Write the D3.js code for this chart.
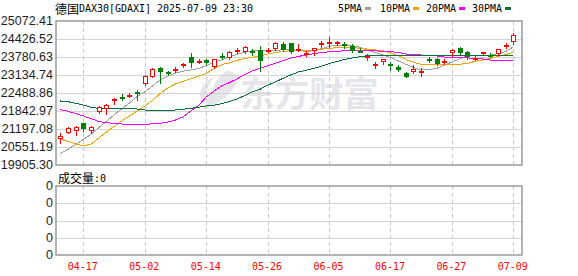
<!DOCTYPE html>
<html>
<head>
<meta charset="utf-8">
<script src="https://cdn.jsdelivr.net/npm/d3@7"></script>
<style>
  html, body { margin: 0; padding: 0; background: #fff; overflow: hidden; }
  svg { display: block; }
</style>
</head>
<body>
<svg id="chart" width="578" height="276"></svg>
<script>
// ---- data (DAX30 daily, 2025-04-14 .. 2025-07-09) ----
const dates = ["04-14","04-15","04-16","04-17","04-22","04-23","04-24","04-25","04-28","04-29",
  "04-30","05-02","05-05","05-06","05-07","05-08","05-09","05-12","05-13","05-14",
  "05-15","05-16","05-19","05-20","05-21","05-22","05-23","05-26","05-27","05-28",
  "05-29","05-30","06-02","06-03","06-04","06-05","06-06","06-09","06-10","06-11",
  "06-12","06-13","06-16","06-17","06-18","06-19","06-20","06-23","06-24","06-25",
  "06-26","06-27","06-30","07-01","07-02","07-03","07-04","07-07","07-08","07-09"];

const openP = [20827,21064,21125,21401,21125,21818,21904,22227,22356,22381,
  22535,22812,23074,23375,23253,23314,23483,23770,23619,23673,
  23432,23827,23734,23996,23971,23996,24032,23996,24067,24247,
  24272,24049,23877,24006,24236,24293,24272,24236,24175,24006,
  23780,23504,23612,23518,23432,23195,23231,23260,23709,23709,
  23612,23913,24092,23949,23727,23888,23841,23877,24150,24308];
const highP = [21043,21258,21305,21423,21305,22033,22094,22320,22442,22478,
  22596,23135,23375,23411,23289,23411,23576,23935,23698,23698,
  23719,23913,23996,24092,24175,24057,24186,24092,24329,24329,
  24293,24236,23996,24114,24354,24487,24365,24318,24236,24092,
  23877,23590,23709,23612,23493,23253,23493,23375,23791,23734,
  23698,24057,24150,23996,23816,23971,23913,24078,24272,24631];
const lowP = [20705,21043,20982,21125,21043,21760,21735,22083,22237,22334,
  22237,22776,23052,22858,23135,23253,23432,23432,23554,23518,
  23375,23698,23709,23913,23913,23852,23289,23949,24032,24006,
  23935,24006,23816,23852,24150,24150,24211,24114,23971,23949,
  23673,23375,23529,23314,23289,23074,23195,23109,23612,23493,
  23529,23816,23877,23698,23673,23852,23770,23852,24092,24247];
const closeP = [20957,21222,21279,21186,21258,21976,22058,22263,22273,22417,
  22514,23099,23339,23231,23160,23350,23518,23576,23655,23554,
  23698,23798,23971,24032,24150,23960,23648,24032,24272,24032,
  23971,24085,23913,24092,24272,24329,24308,24186,24006,23971,
  23816,23540,23698,23483,23314,23074,23339,23296,23662,23518,
  23648,24032,23935,23770,23755,23949,23816,24057,24211,24570];

const ma5 = [20325,20469,20641,20820,21010,21240,21473,21703,21922,22126,
  22363,22532,22740,22955,23095,23199,23271,23321,23364,23472,
  23580,23677,23781,23874,23953,24000,24007,24007,24021,24039,
  24053,24014,23985,24003,24075,24165,24200,24211,24193,24129,
  24028,23942,23856,23763,23641,23522,23407,23314,23325,23372,
  23486,23601,23716,23817,23831,23834,23849,23899,23978,24139];
const ma10 = [20838,20752,20659,20594,20652,20874,21089,21287,21484,21664,
  21843,22022,22220,22471,22668,22812,22909,23002,23092,23189,
  23368,23508,23569,23659,23723,23770,23817,23888,23942,23982,
  24007,24007,24000,24017,24061,24089,24118,24129,24122,24093,
  24064,24035,24007,23924,23831,23691,23590,23522,23494,23494,
  23512,23519,23519,23547,23626,23673,23730,23802,23870,23942];
const ma20 = [21890,21832,21750,21667,21567,21466,21427,21398,21376,21369,
  21366,21366,21380,21402,21448,21520,21635,21843,22040,22345,
  22553,22740,22858,22995,23146,23282,23375,23465,23558,23648,
  23741,23802,23852,23899,23942,23967,23989,24000,24007,24014,
  24028,24007,23978,23978,23942,23888,23888,23852,23817,23817,
  23781,23756,23756,23756,23709,23709,23673,23673,23673,23673];
const ma30 = [22202,22177,22119,22058,21976,21940,21926,21926,21915,21915,
  21915,21879,21854,21854,21854,21879,21904,21940,21976,22022,
  22048,22105,22173,22274,22392,22525,22622,22765,22884,23016,
  23135,23242,23303,23375,23447,23547,23619,23691,23745,23791,
  23827,23842,23849,23852,23852,23852,23852,23852,23852,23852,
  23852,23852,23852,23852,23852,23852,23852,23852,23852,23852];

const priceTicks = [25072.41, 24426.52, 23780.63, 23134.74, 22488.86, 21842.97, 21197.08, 20551.19, 19905.30];
const dateTicks = ["04-17","05-02","05-14","05-26","06-05","06-17","06-27","07-09"];
const volTicks = [0, 0, 0, 0, 0];
const maNames = ["5PMA", "10PMA", "20PMA", "30PMA"];
const maSeries = [ma5, ma10, ma20, ma30];

const titleCn = "德国";
const titleEn = "DAX30[GDAXI] 2025-07-09 23:30";
const volTitleCn = "成交量";
const volValue = ":0";

// ---- styles ----
const MA_COLORS = ["#a0a0a0", "#f5a300", "#ff00ff", "#07713a"];
const UP = "#ff0000", DOWN = "#008000";
const GRID = "#d4d4d4", BORDER = "#9a9a9a";
const MONO = "'DejaVu Sans Mono', monospace";
const CJK = "'Noto Sans CJK SC', sans-serif";
const AXIS = "'Liberation Sans', Arial, sans-serif";

const svg = d3.select("#chart");
const L = 56, R = 522, T = 21, B = 165;     // price panel
const VT = 186, VB = 255;                   // volume panel

const x = d3.scalePoint().domain(dates).range([60.3, 513.3]);
const y = d3.scaleLinear().domain([d3.min(priceTicks), d3.max(priceTicks)]).range([B, T]);
const yv = d3.scalePoint().domain(d3.range(volTicks.length)).range([VB, VT]);
const px = v => Math.round(v) + 0.5;

// watermark (logo swoosh + name)
const wm = svg.append("g").attr("fill", "#e6e6ea");
wm.append("path")
  .attr("d", "M229 71 C238 73 239 83 231 92 C224 100 214 105 204 110 C207 101 210 93 214 86 C218 78 223 71 229 71 Z");
wm.append("path")
  .attr("d", "M200 96 C200 86 206 80 214 77 C209 84 205 92 204 104 Z");
wm.append("text")
  .attr("x", 240).attr("y", 107)
  .attr("font-family", CJK).attr("font-weight", 700)
  .attr("font-size", 35).attr("letter-spacing", -0.5)
  .text("东方财富");

// grid: price panel
const grid = svg.append("g").attr("shape-rendering", "crispEdges");
grid.selectAll("line.h").data(priceTicks.slice(1, -1)).enter().append("line")
  .attr("x1", L).attr("x2", R)
  .attr("y1", d => px(y(d))).attr("y2", d => px(y(d)))
  .attr("stroke", GRID);
grid.selectAll("line.v").data(dateTicks).enter().append("line")
  .attr("x1", d => px(x(d))).attr("x2", d => px(x(d)))
  .attr("y1", T).attr("y2", B)
  .attr("stroke", "#c8c8c8").attr("stroke-dasharray", "4,3");

// grid: volume panel
grid.selectAll("line.vh").data(d3.range(1, volTicks.length - 1)).enter().append("line")
  .attr("x1", L).attr("x2", R)
  .attr("y1", d => px(yv(d))).attr("y2", d => px(yv(d)))
  .attr("stroke", GRID);
grid.selectAll("line.vv").data(dateTicks).enter().append("line")
  .attr("x1", d => px(x(d))).attr("x2", d => px(x(d)))
  .attr("y1", VT).attr("y2", VB)
  .attr("stroke", "#c8c8c8").attr("stroke-dasharray", "4,3");

// moving averages
const mas = svg.append("g").attr("fill", "none").attr("shape-rendering", "crispEdges");
maSeries.forEach((s, k) => {
  mas.append("path")
    .attr("d", d3.line().x((d, i) => x(dates[i])).y(d => y(d))(s))
    .attr("stroke", MA_COLORS[k]).attr("stroke-width", 1);
});

// candles
const candles = dates.map((d, i) => ({ d, o: openP[i], h: highP[i], l: lowP[i], c: closeP[i] }));
const cg = svg.append("g").attr("shape-rendering", "crispEdges");
candles.forEach(k => {
  const up = k.c >= k.o;
  const col = up ? UP : DOWN;
  const cx = Math.round(x(k.d));
  const yt = Math.round(y(Math.max(k.o, k.c)));
  const yb = Math.round(y(Math.min(k.o, k.c)));
  cg.append("line")
    .attr("x1", cx + 0.5).attr("x2", cx + 0.5)
    .attr("y1", Math.round(y(k.h))).attr("y2", Math.round(y(k.l)) + 1)
    .attr("stroke", col);
  if (up && yb - yt > 2) {
    cg.append("rect")
      .attr("x", cx - 1.5).attr("y", yt + 0.5)
      .attr("width", 4).attr("height", yb - yt - 1)
      .attr("fill", "#fff").attr("stroke", col);
  } else {
    cg.append("rect")
      .attr("x", cx - 2).attr("y", yt)
      .attr("width", 5).attr("height", Math.max(2, yb - yt))
      .attr("fill", col);
  }
});

// panel borders
const border = svg.append("g").attr("fill", "none").attr("stroke", BORDER).attr("stroke-width", 1.5);
border.append("rect").attr("x", L).attr("y", T).attr("width", R - L).attr("height", B - T);
border.append("rect").attr("x", L).attr("y", VT).attr("width", R - L).attr("height", VB - VT);

// price axis labels
svg.append("g").selectAll("text").data(priceTicks).enter().append("text")
  .attr("x", 53).attr("y", d => y(d))
  .attr("text-anchor", "end").attr("dominant-baseline", "central")
  .attr("font-family", AXIS).attr("font-size", 12.5).attr("fill", "#1c1c28")
  .text(d => d.toFixed(2));

// volume axis labels
svg.append("g").selectAll("text").data(volTicks).enter().append("text")
  .attr("x", 53).attr("y", (d, i) => yv(i))
  .attr("text-anchor", "end").attr("dominant-baseline", "central")
  .attr("font-family", AXIS).attr("font-size", 12.5).attr("fill", "#1c1c28")
  .text(d => d);

// date labels
svg.append("g").selectAll("text").data(dateTicks).enter().append("text")
  .attr("x", d => x(d) - 0.5).attr("y", 266)
  .attr("text-anchor", "middle").attr("dominant-baseline", "central")
  .attr("font-family", MONO).attr("font-size", 11)
  .attr("textLength", d => d.length * 6).attr("lengthAdjust", "spacingAndGlyphs")
  .attr("fill", "#ff0000")
  .text(d => d);

// title
svg.append("text").attr("x", 55).attr("y", 8).attr("dominant-baseline", "central")
  .attr("font-family", CJK).attr("font-size", 12).attr("fill", "#000").text(titleCn);
svg.append("text").attr("x", 79).attr("y", 8.5).attr("dominant-baseline", "central")
  .attr("font-family", MONO).attr("font-size", 11)
  .attr("textLength", titleEn.length * 6).attr("lengthAdjust", "spacingAndGlyphs")
  .attr("fill", "#000").text(titleEn);

// legend
const legX = [338, 380, 426, 472];
maNames.forEach((n, k) => {
  svg.append("text").attr("x", legX[k]).attr("y", 8.5).attr("dominant-baseline", "central")
    .attr("font-family", MONO).attr("font-size", 11)
    .attr("textLength", n.length * 6).attr("lengthAdjust", "spacingAndGlyphs")
    .attr("fill", "#000").text(n);
  svg.append("rect").attr("x", legX[k] + n.length * 6 + 3).attr("y", 7)
    .attr("width", 6).attr("height", 3).attr("fill", MA_COLORS[k]);
});

// volume title
svg.append("text").attr("x", 58).attr("y", 177.5).attr("dominant-baseline", "central")
  .attr("font-family", CJK).attr("font-size", 12).attr("fill", "#000").text(volTitleCn);
svg.append("text").attr("x", 94).attr("y", 178).attr("dominant-baseline", "central")
  .attr("font-family", MONO).attr("font-size", 11)
  .attr("textLength", volValue.length * 6).attr("lengthAdjust", "spacingAndGlyphs")
  .attr("fill", "#000").text(volValue);
</script>
</body>
</html>
